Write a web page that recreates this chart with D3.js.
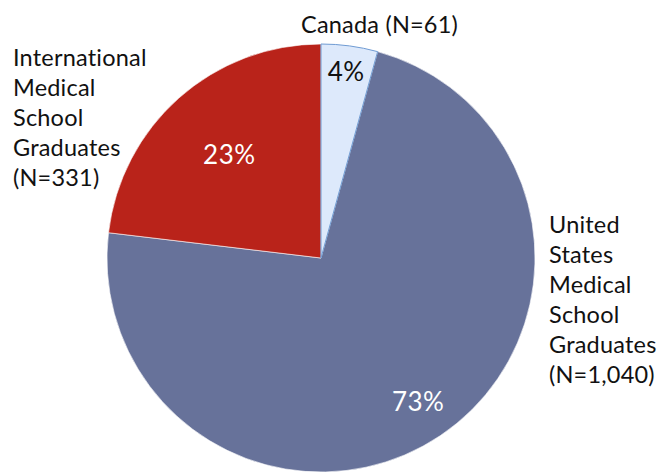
<!doctype html>
<html>
<head>
    <style>
        body { margin: 0; background: #fff; }
        text { font-family: "Lato", "Open Sans", sans-serif; font-variant-ligatures: none; }
        .cat { font-size: 23.5px; fill: #111; letter-spacing: 0.2px; }
        .pct { font-size: 26px; letter-spacing: 0.5px; }
    </style>
    <script src="https://d3js.org/d3.v7.min.js"></script>
</head>
<body>
<svg width="658" height="472"></svg>
<script>
// data
var categories = ["Canada", "United States Medical School Graduates", "International Medical School Graduates"];
var counts = [61, 1040, 331];
var labelLines = [
    ["Canada (N=61)"],
    ["United", "States", "Medical", "School", "Graduates", "(N=1,040)"],
    ["International", "Medical", "School", "Graduates", "(N=331)"]
];
var colors = ["#dde9fb", "#67729a", "#b9231a"];
var pctColors = ["#111", "#fff", "#fff"];

var svg = d3.select("svg"),
    cx = 321, cy = 258, radius = 214;

var data = categories.map(function(c, i) { return { name: c, value: counts[i], i: i }; });
var total = d3.sum(counts);

// excel style: start at 12 o'clock, clockwise, keep order
var pie = d3.pie().sort(null).value(function(d) { return d.value; });
var arc = d3.arc().innerRadius(0).outerRadius(radius);

var g = svg.append("g").attr("transform", "translate(" + cx + "," + cy + ")");

var arcs = pie(data);

g.selectAll("path")
 .data(arcs)
 .enter().append("path")
 .attr("d", arc)
 .attr("fill", function(d) { return colors[d.data.i]; })
 .attr("stroke", function(d) { return d.data.i === 0 ? "#6f9bd3" : "#fff"; })
 .attr("stroke-width", function(d) { return d.data.i === 0 ? 1 : 0.6; });

// Canada slice on top so its blue edge shows
g.select("path").raise();

// percent labels, pushed to different distances like the original
var labelR = [188, 174, 138];
g.selectAll(".pct")
 .data(arcs)
 .enter().append("text")
 .attr("class", "pct")
 .attr("text-anchor", "middle")
 .attr("dy", "0.35em")
 .attr("fill", function(d) { return pctColors[d.data.i]; })
 .attr("transform", function(d) {
     var a = (d.startAngle + d.endAngle) / 2, r = labelR[d.data.i];
     return "translate(" + (Math.sin(a) * r) + "," + (-Math.cos(a) * r) + ")";
 })
 .text(function(d) { return Math.round(d.data.value / total * 100) + "%"; });

// category labels
var labelPos = [[301, 33], [549, 233], [13, 66]];
var lineH = 30;
svg.selectAll(".cat")
 .data(labelLines)
 .enter().append("text")
 .attr("class", "cat")
 .attr("x", function(d, i) { return labelPos[i][0]; })
 .attr("y", function(d, i) { return labelPos[i][1]; })
 .each(function(lines, i) {
     d3.select(this).selectAll("tspan")
       .data(lines)
       .enter().append("tspan")
       .attr("x", labelPos[i][0])
       .attr("y", function(l, k) { return labelPos[i][1] + k * lineH; })
       .text(function(l) { return l; });
 });
</script>
</body>
</html>
